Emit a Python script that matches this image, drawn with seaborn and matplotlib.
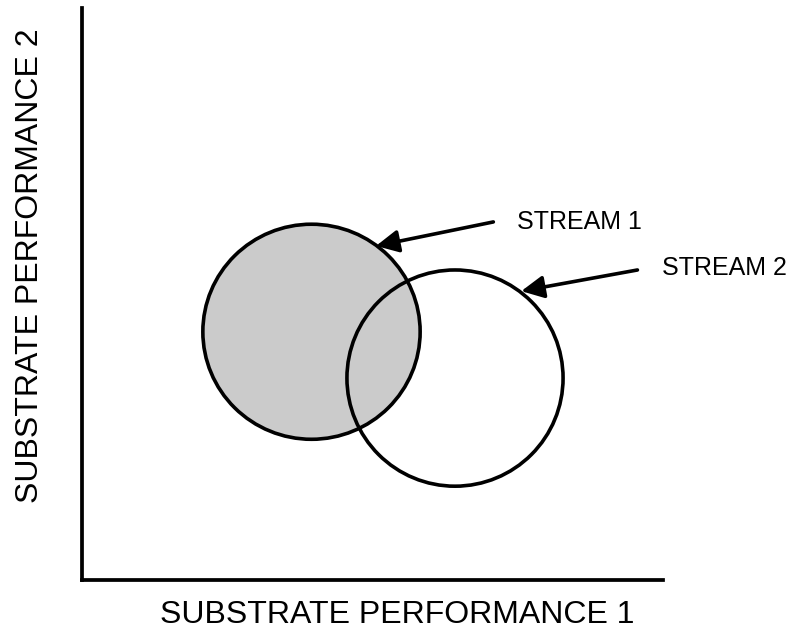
import matplotlib
matplotlib.use("Agg")
import matplotlib.pyplot as plt
from matplotlib.patches import Ellipse
import seaborn as sns

# data (axis units 0-100 on both axes)
streams = ["STREAM 1", "STREAM 2"]
center_x = [39.5, 64.2]
center_y = [43.4, 35.3]
diam_x = [37.4, 37.2]
diam_y = [37.6, 37.8]
fills = ["#cbcbcb", "none"]
label_x = [74.9, 99.8]
label_y = [62.6, 54.6]
tip_x = [50.6, 75.6]
tip_y = [58.4, 50.5]
tail_x = [70.8, 95.6]
tail_y = [62.6, 54.2]
xlabel = "SUBSTRATE PERFORMANCE 1"
ylabel = "SUBSTRATE PERFORMANCE 2"

sns.set_style("white")
plt.rcParams['font.family'] = ['Liberation Sans', 'DejaVu Sans']
plt.rcParams['text.color'] = 'black'

fig = plt.figure(figsize=(7.99, 6.39), dpi=100)
ax = fig.add_axes([82/799, (639-580)/639, (663-82)/799, (580-8)/639])

for i in range(len(streams)):
    e = Ellipse((center_x[i], center_y[i]), diam_x[i], diam_y[i],
                facecolor=fills[i], edgecolor="black", lw=2.6, zorder=2 + i)
    ax.add_patch(e)
    ax.annotate("", xy=(tip_x[i], tip_y[i]), xytext=(tail_x[i], tail_y[i]),
                arrowprops=dict(arrowstyle="-|>", mutation_scale=34, lw=2.6, color="black",
                                shrinkA=0, shrinkB=0), annotation_clip=False, zorder=5)
    ax.text(label_x[i], label_y[i], streams[i], fontsize=18, ha="left", va="center", clip_on=False)

ax.set_xlim(0, 100)
ax.set_ylim(0, 100)
ax.set_xticks([])
ax.set_yticks([])
sns.despine(ax=ax)
for s in ["left", "bottom"]:
    ax.spines[s].set_linewidth(2.7)
    ax.spines[s].set_color("black")

fig.text(397/799, 1 - 615/639, xlabel, fontsize=23, ha="center", va="center")
fig.text(30/799, 1 - 266/639, ylabel, fontsize=23, ha="center", va="center", rotation=90)

fig.savefig("out.png", dpi=100, facecolor="white")
